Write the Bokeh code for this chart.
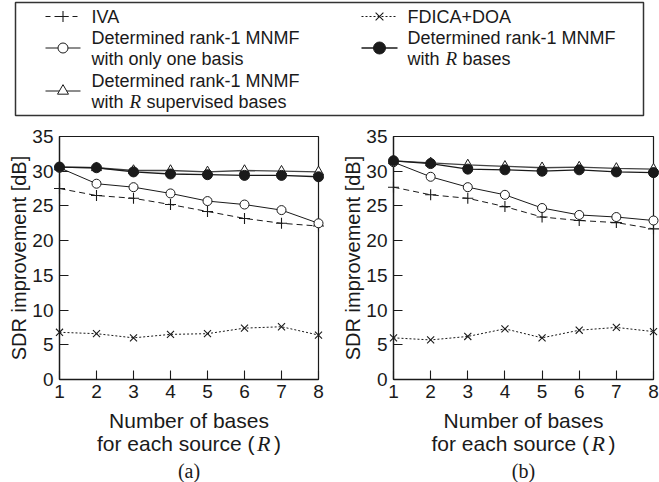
from bokeh.plotting import figure
from bokeh.layouts import column, row
from bokeh.models import Range1d, FixedTicker
from bokeh.core.properties import value
from bokeh.embed import file_html
from bokeh.resources import INLINE

# ---------------- data ----------------
R_VALUES = [1, 2, 3, 4, 5, 6, 7, 8]
Y_TICKS = [0, 5, 10, 15, 20, 25, 30, 35]

A_IVA = [27.5, 26.5, 26.1, 25.2, 24.2, 23.2, 22.5, 22.1]
A_FDICA = [6.8, 6.6, 6.0, 6.5, 6.6, 7.4, 7.6, 6.4]
A_ONE = [30.5, 28.2, 27.7, 26.8, 25.7, 25.2, 24.4, 22.5]
A_SUP = [30.6, 30.5, 30.1, 30.1, 29.9, 30.1, 30.0, 29.9]
A_RB = [30.6, 30.5, 29.9, 29.6, 29.5, 29.4, 29.4, 29.2]

B_IVA = [27.7, 26.6, 26.1, 24.9, 23.4, 22.9, 22.6, 21.7]
B_FDICA = [6.0, 5.7, 6.2, 7.3, 6.0, 7.1, 7.5, 6.9]
B_ONE = [31.3, 29.2, 27.7, 26.6, 24.7, 23.7, 23.4, 22.9]
B_SUP = [31.5, 31.2, 30.9, 30.7, 30.5, 30.6, 30.4, 30.3]
B_RB = [31.5, 31.1, 30.3, 30.2, 30.0, 30.2, 29.9, 29.8]

Y_LABEL = "SDR improvement [dB]"
X_LABEL_1 = "Number of bases"
X_LABEL_2 = "for each source ("
X_LABEL_R = "R"
X_LABEL_3 = ")"
CAPTIONS = ["(a)", "(b)"]

INK = "#1a1a1a"
SANS = "Liberation Sans"
SERIF = "Liberation Serif"
LVL = "overlay"


def draw_series(p, iva, fdica, one, sup, rb):
    p.line(R_VALUES, iva, line_color=INK, line_width=1, line_dash="6 4", level=LVL)
    p.scatter(R_VALUES, iva, marker="cross", size=11, line_color=INK, line_width=1.1, level=LVL)
    p.line(R_VALUES, fdica, line_color=INK, line_width=1, line_dash="2 2", level=LVL)
    p.scatter(R_VALUES, fdica, marker="x", size=10, line_color=INK, line_width=1.1, level=LVL)
    p.line(R_VALUES, one, line_color=INK, line_width=1, level=LVL)
    p.scatter(R_VALUES, one, marker="circle", size=9, fill_color="white", line_color=INK,
              line_width=1, level=LVL)
    p.line(R_VALUES, sup, line_color="#444444", line_width=1.3, level=LVL)
    p.scatter(R_VALUES, sup, marker="triangle", size=10, fill_color="white", line_color=INK,
              line_width=1, level=LVL)
    p.line(R_VALUES, rb, line_color=INK, line_width=1.3, level=LVL)
    p.scatter(R_VALUES, rb, marker="circle", size=10, fill_color=INK, line_color=INK, level=LVL)


def panel(series, width, border_left, border_right):
    p = figure(width=width, height=288,
               x_range=Range1d(R_VALUES[0], R_VALUES[-1]),
               y_range=Range1d(Y_TICKS[0], Y_TICKS[-1]),
               output_backend="svg", toolbar_location=None,
               min_border_left=border_left, min_border_right=border_right,
               min_border_top=14, min_border_bottom=31)
    p.outline_line_color = INK
    p.outline_line_width = 1.2
    p.grid.visible = False
    p.background_fill_color = "white"
    p.border_fill_color = "white"

    xa = p.xaxis[0]
    xa.ticker = FixedTicker(ticks=R_VALUES)
    ya = p.yaxis[0]
    ya.ticker = FixedTicker(ticks=Y_TICKS)
    ya.axis_label = Y_LABEL
    ya.axis_label_standoff = -1
    ya.axis_label_text_font = SANS
    ya.axis_label_text_font_size = "20px"
    ya.axis_label_text_font_style = "normal"
    ya.axis_label_text_color = INK
    for ax in (xa, ya):
        ax.major_tick_in = 9
        ax.major_tick_out = 0
        ax.minor_tick_in = 0
        ax.minor_tick_out = 0
        ax.axis_line_color = INK
        ax.axis_line_width = 1.3
        ax.major_tick_line_color = INK
        ax.major_tick_line_width = 1.1
        ax.major_label_text_font = SANS
        ax.major_label_text_font_size = "19px"
        ax.major_label_text_color = INK
    xa.major_label_standoff = 5
    ya.major_label_standoff = 6

    draw_series(p, *series)
    return p


fig_a = panel((A_IVA, A_FDICA, A_ONE, A_SUP, A_RB), 330, 59, 12)
fig_b = panel((B_IVA, B_FDICA, B_ONE, B_SUP, B_RB), 329, 63, 6)

# ---------------- legend ----------------
leg = figure(width=659, height=122, x_range=Range1d(0, 659), y_range=Range1d(122, 0),
             output_backend="svg", toolbar_location=None,
             x_axis_location=None, y_axis_location=None, min_border=0)
leg.outline_line_color = None
leg.grid.visible = False
leg.quad(left=[15], right=[643], top=[2], bottom=[115], fill_color=None,
         line_color="#333333", line_width=1.5)

ROWS = [16, 37, 58, 80, 101]
C1_LINE = (45, 80)
C2_LINE = (361, 397)
C1_TEXT = 91
C2_TEXT = 407
FS = "18px"


def ltext(x, y, s, font=SANS, style="normal", size=FS):
    leg.text(x=[x], y=[y], text=[s], text_font=value(font), text_font_style=style,
             text_font_size=size, text_baseline="middle", text_align="left", text_color=INK)


m1 = (C1_LINE[0] + C1_LINE[1]) / 2
m2 = (C2_LINE[0] + C2_LINE[1]) / 2
y_one = (ROWS[1] + ROWS[2]) / 2
y_sup = (ROWS[3] + ROWS[4]) / 2

leg.line(list(C1_LINE), [ROWS[0]] * 2, line_color=INK, line_dash="5 4", line_width=1)
leg.scatter([m1], [ROWS[0]], marker="cross", size=11, line_color=INK, line_width=1.1)
ltext(C1_TEXT, ROWS[0], "IVA")

leg.line(list(C1_LINE), [y_one] * 2, line_color=INK, line_width=1)
leg.scatter([m1], [y_one], marker="circle", size=10, fill_color="white", line_color=INK)
ltext(C1_TEXT, ROWS[1], "Determined rank-1 MNMF")
ltext(C1_TEXT, ROWS[2], "with only one basis")

leg.line(list(C1_LINE), [y_sup] * 2, line_color=INK, line_width=1)
leg.scatter([m1], [y_sup], marker="triangle", size=11, fill_color="white", line_color=INK)
ltext(C1_TEXT, ROWS[3], "Determined rank-1 MNMF")
ltext(C1_TEXT, ROWS[4], "with")
ltext(C1_TEXT + 38, ROWS[4], "R", font=SERIF, style="italic", size="19px")
ltext(C1_TEXT + 55, ROWS[4], "supervised bases")

leg.line(list(C2_LINE), [ROWS[0]] * 2, line_color=INK, line_dash="2 2", line_width=1)
leg.scatter([m2], [ROWS[0]], marker="x", size=11, line_color=INK, line_width=1.1)
ltext(C2_TEXT, ROWS[0], "FDICA+DOA")

leg.line(list(C2_LINE), [y_one] * 2, line_color=INK, line_width=1.3)
leg.scatter([m2], [y_one], marker="circle", size=12, fill_color=INK, line_color=INK)
ltext(C2_TEXT, ROWS[1], "Determined rank-1 MNMF")
ltext(C2_TEXT, ROWS[2], "with")
ltext(C2_TEXT + 38, ROWS[2], "R", font=SERIF, style="italic", size="19px")
ltext(C2_TEXT + 55, ROWS[2], "bases")

# ---------------- bottom texts ----------------
bot = figure(width=659, height=72, x_range=Range1d(0, 659), y_range=Range1d(72, 0),
             output_backend="svg", toolbar_location=None,
             x_axis_location=None, y_axis_location=None, min_border=0)
bot.outline_line_color = None
bot.grid.visible = False

for cx, cap in zip([188.5, 523], CAPTIONS):
    bot.text(x=[cx], y=[10], text=[X_LABEL_1], text_font=value(SANS), text_font_size="21px",
             text_align="center", text_baseline="middle", text_color=INK)
    x0 = cx - 92
    bot.text(x=[x0], y=[33], text=[X_LABEL_2], text_font=value(SANS), text_font_size="21px",
             text_align="left", text_baseline="middle", text_color=INK)
    bot.text(x=[x0 + 160], y=[33], text=[X_LABEL_R], text_font=value(SERIF),
             text_font_style="italic", text_font_size="22px",
             text_align="left", text_baseline="middle", text_color=INK)
    bot.text(x=[x0 + 177], y=[33], text=[X_LABEL_3], text_font=value(SANS), text_font_size="21px",
             text_align="left", text_baseline="middle", text_color=INK)
    bot.text(x=[cx], y=[60], text=[cap], text_font=value(SERIF), text_font_size="20px",
             text_align="center", text_baseline="middle", text_color=INK)

layout = column(leg, row(fig_a, fig_b), bot)
open("out.html", "w").write(file_html(layout, INLINE))
